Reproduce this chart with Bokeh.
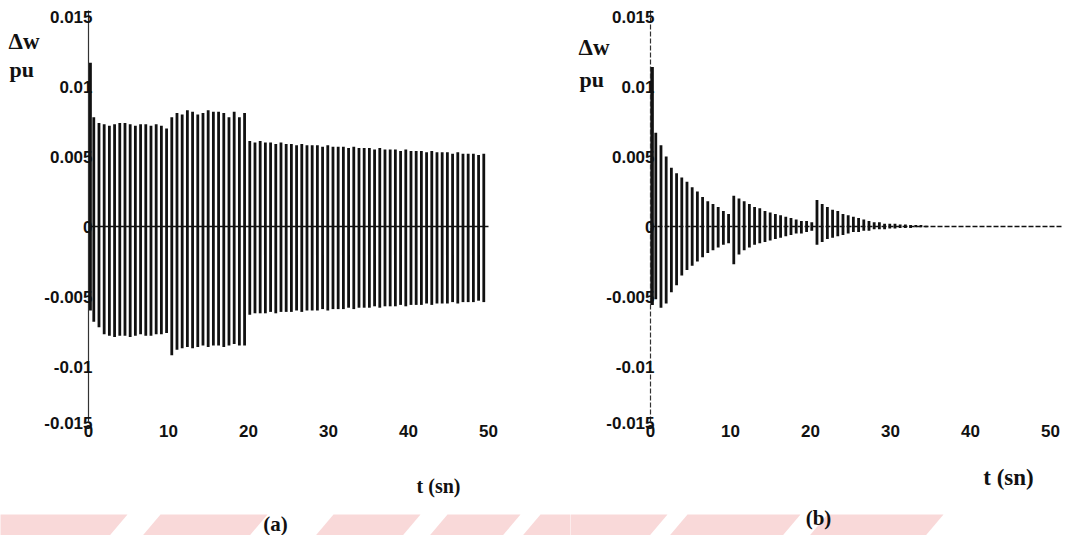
from bokeh.plotting import figure
from bokeh.layouts import row
from bokeh.models import Label, FixedTicker, ColumnDataSource
from bokeh.embed import file_html
from bokeh.resources import INLINE

# ---------------- data ----------------
# time of each oscillation stroke (s)
t_cycles = [0.66, 1.31, 1.96, 2.61, 3.26, 3.91, 4.56, 5.21, 5.86, 6.51,
            7.16, 7.81, 8.46, 9.11, 9.76, 10.41, 11.06, 11.71, 12.36, 13.01,
            13.66, 14.31, 14.96, 15.61, 16.26, 16.91, 17.56, 18.21, 18.86, 19.51,
            20.16, 20.81, 21.46, 22.11, 22.76, 23.41, 24.06, 24.71, 25.36, 26.01,
            26.66, 27.31, 27.96, 28.61, 29.26, 29.91, 30.56, 31.21, 31.86, 32.51,
            33.16, 33.81, 34.46, 35.11, 35.76, 36.41, 37.06, 37.71, 38.36, 39.01,
            39.66, 40.31, 40.96, 41.61, 42.26, 42.91, 43.56, 44.21, 44.86, 45.51,
            46.16, 46.81, 47.46, 48.11, 48.76, 49.41]

# panel (a): upper and lower peak of each stroke (pu)
up_a = [0.0078, 0.0074, 0.0073, 0.0072, 0.0073, 0.0074, 0.0074, 0.0073, 0.0072, 0.0073,
        0.0073, 0.0072, 0.0073, 0.0072, 0.0070,
        0.0078, 0.0081, 0.0080, 0.0083, 0.0082, 0.0080, 0.0081, 0.0083, 0.0082, 0.0082,
        0.0081, 0.0078, 0.0082, 0.0078, 0.0081,
        0.0061, 0.0060, 0.0061, 0.0060, 0.0060, 0.0059, 0.0060, 0.0059, 0.0059, 0.0058,
        0.0059, 0.0058, 0.0058, 0.0058, 0.0057, 0.0058, 0.0057, 0.0057, 0.0057, 0.0056,
        0.0057, 0.0056, 0.0056, 0.0056, 0.0055, 0.0056, 0.0055, 0.0055, 0.0055, 0.0054,
        0.0055, 0.0054, 0.0054, 0.0054, 0.0053, 0.0054, 0.0053, 0.0053, 0.0053, 0.0052,
        0.0053, 0.0052, 0.0052, 0.0052, 0.0051, 0.0052]
lo_a = [-0.0068, -0.0072, -0.0077, -0.0078, -0.0079, -0.0078, -0.0078, -0.0079, -0.0078, -0.0077,
        -0.0078, -0.0078, -0.0077, -0.0077, -0.0076,
        -0.0092, -0.0088, -0.0087, -0.0086, -0.0087, -0.0086, -0.0085, -0.0086, -0.0085, -0.0085,
        -0.0086, -0.0085, -0.0084, -0.0085, -0.0085,
        -0.0063, -0.0062, -0.0062, -0.0062, -0.0061, -0.0062, -0.0061, -0.0061, -0.0061, -0.0060,
        -0.0061, -0.0060, -0.0060, -0.0060, -0.0059, -0.0060, -0.0059, -0.0059, -0.0059, -0.0058,
        -0.0059, -0.0058, -0.0058, -0.0058, -0.0057, -0.0058, -0.0057, -0.0057, -0.0057, -0.0056,
        -0.0057, -0.0056, -0.0056, -0.0056, -0.0055, -0.0056, -0.0055, -0.0055, -0.0055, -0.0054,
        -0.0055, -0.0054, -0.0054, -0.0054, -0.0053, -0.0054]

# panel (b): damped response
up_b = [0.0067, 0.0058, 0.0050, 0.0042, 0.0038, 0.0035, 0.0032, 0.0028, 0.0025, 0.0021,
        0.0018, 0.0016, 0.0014, 0.0011, 0.0009, 0.0022, 0.0020, 0.0018, 0.0016, 0.0014,
        0.0013, 0.0011, 0.0010, 0.0009, 0.0008, 0.0007, 0.0006, 0.0005, 0.0004, 0.0004,
        0.0003, 0.0019, 0.0016, 0.0014, 0.0012, 0.0011, 0.0009, 0.0008, 0.0007, 0.0006,
        0.0005, 0.0004, 0.0003, 0.0003, 0.0002, 0.0002, 0.0002, 0.00015, 0.00015, 0.0001,
        0.0001, 0.0001, 0.00005]
lo_b = [-0.0052, -0.0058, -0.0055, -0.0047, -0.0042, -0.0035, -0.0031, -0.0028, -0.0025, -0.0022,
        -0.0019, -0.0017, -0.0015, -0.0013, -0.0012, -0.0027, -0.0020, -0.0017, -0.0015, -0.0013,
        -0.0012, -0.0011, -0.0010, -0.0009, -0.0008, -0.0007, -0.0006, -0.0005, -0.0005, -0.0004,
        -0.0003, -0.0013, -0.0011, -0.0009, -0.0008, -0.0007, -0.0006, -0.0005, -0.0004, -0.0004,
        -0.0003, -0.0003, -0.0002, -0.0002, -0.0002, -0.00015, -0.00015, -0.0001, -0.0001, -0.0001,
        -0.00005, -0.00005, -0.00005]
t_b = t_cycles[:len(up_b)]

# initial spike at the fault instant
spike_t = [0.2]
spike_up_a = [0.0117]
spike_lo_a = [-0.0060]
spike_up_b = [0.0114]
spike_lo_b = [-0.0056]

# zero reference line extent (s)
zero_t_a = [0, 50]
zero_t_b = [0, 51.5]
zero_v = [0, 0]

x_ticks = [0, 10, 20, 30, 40, 50]
y_ticks = [-0.01, -0.005, 0, 0.005, 0.01, 0.015]
y_tick_labels = ["-0.01", "-0.005", "0", "0.005", "0.01", "0.015"]
y_bottom_label = "-0.015"

# ---------------- layout constants (page pixels) ----------------
INK = "#111111"
PINK = "#f9d9d9"
PX_PER_S = 8.0
PX_PER_PU = 14000.0
ZERO_Y = 226.0          # page y of value 0
H = 535
AXIS_BOTTOM_Y = 421.0   # page y where the vertical axis ends


def v_of(py):
    return (ZERO_Y - py) / PX_PER_PU


def make_panel(left, width, origin_x, t, up, lo, s_up, s_lo, zt, dash):
    def t_of(px):
        return (px - origin_x) / PX_PER_S

    p = figure(width=width, height=H,
               x_range=(t_of(left), t_of(left + width)),
               y_range=(v_of(H), v_of(0)),
               output_backend="svg", toolbar_location=None, title=None,
               min_border=0)
    p.outline_line_color = None
    p.grid.visible = False
    p.border_fill_color = "white"

    # faint watermark strip at the bottom of the page
    shapes = [(-40, 127), (160, 267), (333, 420), (447, 520), (540, 667), (687, 800), (827, 943)]
    wxs, wys = [], []
    for a, b in shapes:
        wxs.append([t_of(a), t_of(b), t_of(b - 22), t_of(a - 22)])
        wys.append([v_of(514), v_of(514), v_of(540), v_of(540)])
    p.patches(wxs, wys, fill_color=PINK, line_color=None)

    src = ColumnDataSource(dict(t=t, up=up, lo=lo))
    p.segment(x0="t", y0="lo", x1="t", y1="up", source=src, line_color=INK, line_width=2.8)
    p.segment(x0=spike_t, y0=s_lo, x1=spike_t, y1=s_up, line_color=INK, line_width=3.5)
    p.line(zt, zero_v, line_color=INK, line_width=1.4, line_dash=dash)

    y_lo = v_of(AXIS_BOTTOM_Y)

    # x axis: labels only, just under the bottom end of the vertical axis
    xa = p.xaxis[0]
    xa.fixed_location = y_lo
    xa.ticker = FixedTicker(ticks=x_ticks)
    xa.axis_line_color = None
    xa.major_tick_line_color = None
    xa.minor_tick_line_color = None
    xa.major_tick_out = 0
    xa.major_tick_in = 0
    xa.major_label_standoff = 3
    xa.major_label_text_font = "Liberation Sans"
    xa.major_label_text_font_size = "17px"
    xa.major_label_text_font_style = "bold"
    xa.major_label_text_color = INK

    # y axis drawn at t = 0
    ya = p.yaxis[0]
    ya.fixed_location = 0
    ya.bounds = (y_lo, v_of(10))
    ya.ticker = FixedTicker(ticks=y_ticks)
    ya.major_label_overrides = {v: s for v, s in zip(y_ticks, y_tick_labels)}
    ya.axis_line_color = "#333333"
    ya.axis_line_width = 1.2
    ya.axis_line_dash = dash
    ya.major_tick_line_color = None
    ya.minor_tick_line_color = None
    ya.major_tick_out = 0
    ya.major_tick_in = 0
    ya.major_label_standoff = -4
    ya.major_label_text_font = "Liberation Sans"
    ya.major_label_text_font_size = "17px"
    ya.major_label_text_font_style = "bold"
    ya.major_label_text_color = INK

    p.add_layout(Label(x=0, y=v_of(422), x_offset=4, text=y_bottom_label,
                       text_font="Liberation Sans", text_font_style="bold",
                       text_font_size="17px", text_color=INK,
                       text_align="right", text_baseline="middle"))
    p._t_of = t_of
    return p


def add_text(p, text, px, py, size, align="left"):
    p.add_layout(Label(x=p._t_of(px), y=v_of(py), text=text, text_font="Liberation Serif",
                       text_font_style="bold", text_font_size=size, text_color=INK,
                       text_align=align, text_baseline="middle"))


p1 = make_panel(0, 570, 88, t_cycles, up_a, lo_a, spike_up_a, spike_lo_a, zero_t_a, "solid")
p2 = make_panel(570, 510, 650, t_b, up_b, lo_b, spike_up_b, spike_lo_b, zero_t_b, "5 2")

add_text(p1, "\u0394w", 8, 41, "23px")
add_text(p1, "pu", 9, 69, "22px")
add_text(p1, "t (sn)", 438, 485, "20px", "center")
add_text(p1, "(a)", 275, 523, "21px", "center")

add_text(p2, "\u0394w", 578, 47, "23px")
add_text(p2, "pu", 579, 79, "22px")
add_text(p2, "t (sn)", 1008, 477, "23px", "center")
add_text(p2, "(b)", 818, 517, "21px", "center")

layout = row(p1, p2)
open("out.html", "w").write(file_html(layout, INLINE))
